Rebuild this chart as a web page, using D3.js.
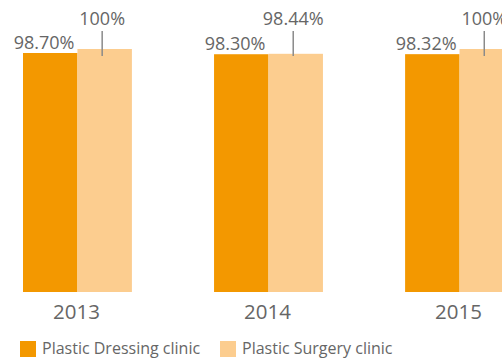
<!DOCTYPE html>
<html>
<head>
<meta charset="utf-8">
<script src="https://cdn.jsdelivr.net/npm/d3@7"></script>
<style>
  html, body { margin: 0; padding: 0; background: #fff; }
  svg { display: block; font-family: "Open Sans", "Noto Sans", sans-serif; }
</style>
</head>
<body>
<svg id="chart" width="502" height="358"></svg>
<script>
// Clinic satisfaction rates by year
const years = ["2013", "2014", "2015"];
const seriesNames = ["Plastic Dressing clinic", "Plastic Surgery clinic"];
const dressing = [98.70, 98.30, 98.32];
const surgery = [100, 98.44, 100];
const dressingLabels = ["98.70%", "98.30%", "98.32%"];
const surgeryLabels = ["100%", "98.44%", "100%"];
const colors = ["#f39800", "#fccd8f"];

const svg = d3.select("#chart");
const textColor = "#666666";

const x0 = d3.scaleBand().domain(years).range([23, 514]).paddingInner(0.43).paddingOuter(0);
const x1 = d3.scaleBand().domain(seriesNames).range([0, x0.bandwidth()]);
const y = d3.scaleLinear().domain([21, 100]).range([292, 49]);

const rows = years.map((yr, i) => ({
  year: yr,
  values: [
    { name: seriesNames[0], value: dressing[i], label: dressingLabels[i] },
    { name: seriesNames[1], value: surgery[i], label: surgeryLabels[i] }
  ]
}));

const groups = svg.selectAll("g.year").data(rows).join("g")
  .attr("class", "year")
  .attr("transform", d => `translate(${x0(d.year)},0)`);

groups.selectAll("rect").data(d => d.values).join("rect")
  .attr("x", d => x1(d.name))
  .attr("y", d => y(d.value))
  .attr("width", x1.bandwidth())
  .attr("height", d => y.range()[0] - y(d.value))
  .attr("fill", (d, i) => colors[i]);

// Dressing clinic labels, right-aligned near the boundary between the pair
groups.append("text")
  .attr("x", x1(seriesNames[1]) - 3)
  .attr("y", d => y(d.values[0].value) - 4)
  .attr("text-anchor", "end")
  .attr("font-size", 18)
  .attr("fill", textColor)
  .text(d => d.values[0].label);

// Surgery clinic labels with a leader line reaching into the bar
const lx = x1(seriesNames[1]) + x1.bandwidth() / 2 - 2.5;
const leaderEnd = y(d3.max(surgery)) + 7;
groups.append("line")
  .attr("x1", lx).attr("x2", lx)
  .attr("y1", 31).attr("y2", leaderEnd)
  .attr("stroke", "#8a8a8a")
  .attr("stroke-width", 1.5);

groups.append("text")
  .attr("x", lx)
  .attr("y", 25)
  .attr("text-anchor", "middle")
  .attr("font-size", 18)
  .attr("fill", textColor)
  .text(d => d.values[1].label);

// Year axis labels
groups.append("text")
  .attr("x", x0.bandwidth() / 2 - 1)
  .attr("y", 319)
  .attr("text-anchor", "middle")
  .attr("font-size", 20.5)
  .attr("fill", textColor)
  .text(d => d.year);

// Legend
const legendX = [20, 220];
const legend = svg.selectAll("g.legend").data(seriesNames).join("g")
  .attr("class", "legend")
  .attr("transform", (d, i) => `translate(${legendX[i]},341)`);
legend.append("rect").attr("width", 16).attr("height", 16).attr("fill", (d, i) => colors[i]);
legend.append("text")
  .attr("x", 22)
  .attr("y", 13)
  .attr("font-size", 16)
  .attr("fill", textColor)
  .text(d => d);
</script>
</body>
</html>
